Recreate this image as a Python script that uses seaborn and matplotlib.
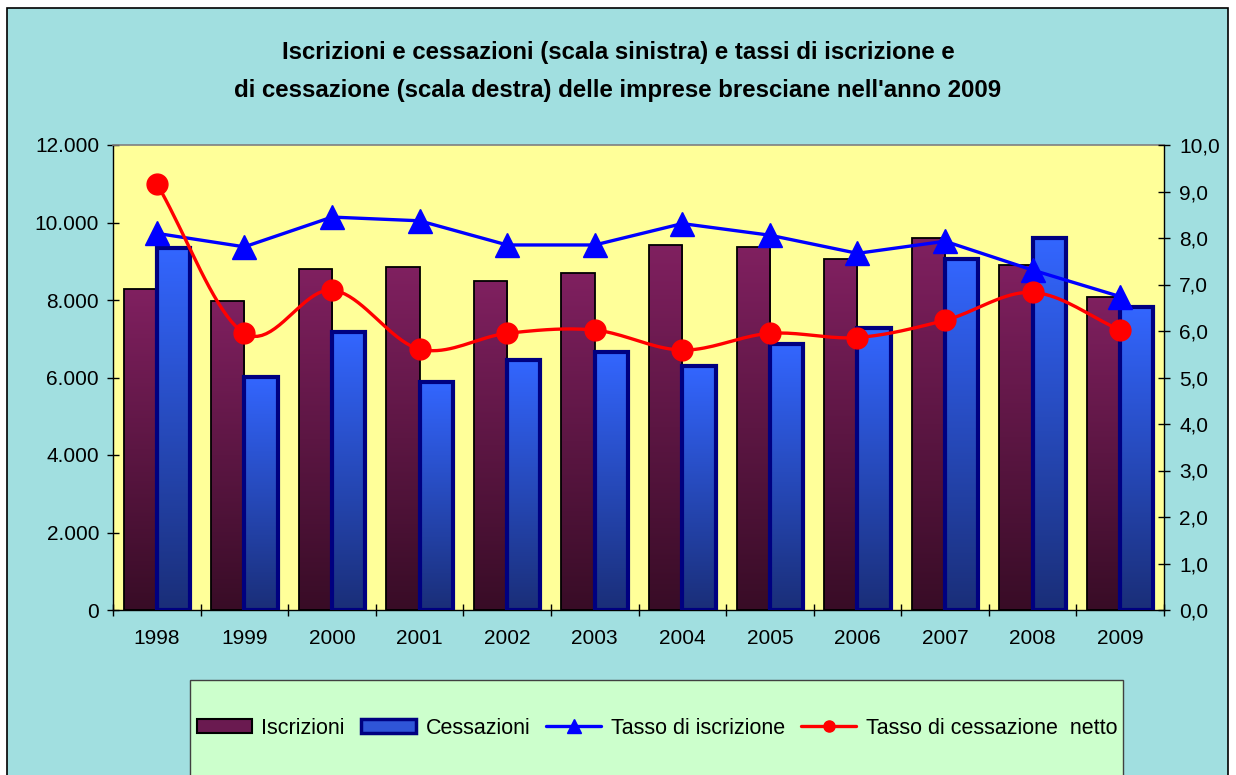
import numpy as np
import pandas as pd
import seaborn as sns
import matplotlib.pyplot as plt
from matplotlib.patches import Rectangle
from matplotlib.lines import Line2D
from matplotlib.ticker import FuncFormatter, FixedLocator

# dati
anni = ['1998', '1999', '2000', '2001', '2002', '2003', '2004', '2005', '2006', '2007', '2008', '2009']
iscrizioni = [8280, 7980, 8810, 8860, 8500, 8700, 9420, 9380, 9060, 9590, 8910, 8080]
cessazioni = [9330, 6020, 7170, 5880, 6450, 6650, 6290, 6860, 7270, 9070, 9590, 7830]
tasso_iscrizione = [8.10, 7.81, 8.45, 8.37, 7.85, 7.85, 8.31, 8.06, 7.67, 7.93, 7.31, 6.74]
tasso_cessazione = [9.17, 5.95, 6.88, 5.61, 5.95, 6.02, 5.59, 5.95, 5.86, 6.23, 6.83, 6.02]

sns.set_theme(style='white')
plt.rcParams['font.family'] = ['Liberation Sans', 'DejaVu Sans']
plt.rcParams['text.color'] = 'black'

df = pd.DataFrame({
    'anno': anni * 2,
    'valore': iscrizioni + cessazioni,
    'serie': ['Iscrizioni'] * len(anni) + ['Cessazioni'] * len(anni),
})

CIANO = '#A1DFE0'
fig = plt.figure(figsize=(12.36, 7.75), dpi=100, facecolor='white')
# sfondo del grafico con bordo nero
fig.patches.append(Rectangle((7 / 1236, -0.01), 1221 / 1236, 1 - 8 / 775 + 0.01,
                             transform=fig.transFigure, facecolor=CIANO,
                             edgecolor='black', linewidth=1.2, zorder=-10))

ax = fig.add_axes([113 / 1236, 1 - 610 / 775, 1051 / 1236, 465 / 775])
ax.set_facecolor('#FFFF99')

sns.barplot(data=df, x='anno', y='valore', hue='serie', ax=ax, width=0.76,
            palette={'Iscrizioni': '#7A1F5C', 'Cessazioni': '#3355EE'},
            legend=False, saturation=1)

# riempimento sfumato delle barre
colori = {
    'Iscrizioni': (np.array([0x80, 0x20, 0x60]) / 255, np.array([0x38, 0x0C, 0x26]) / 255, 'black', 1.3),
    'Cessazioni': (np.array([0x33, 0x66, 0xFF]) / 255, np.array([0x1A, 0x2E, 0x78]) / 255, '#000080', 3.0),
}
n = len(anni)
for i, p in enumerate(ax.patches[:2 * n]):
    serie = 'Iscrizioni' if i < n else 'Cessazioni'
    top, bot, edge, lw = colori[serie]
    g = np.linspace(0, 1, 256)[:, None]
    img = top[None, :] * (1 - g) + bot[None, :] * g
    img = img[:, None, :]
    x0, w, h = p.get_x(), p.get_width(), p.get_height()
    im = ax.imshow(img, extent=[x0, x0 + w, 0, h], aspect='auto', zorder=2,
                   interpolation='bilinear', origin='upper')
    im.set_clip_path(p)
    p.set_facecolor('none')
    p.set_edgecolor(edge)
    p.set_linewidth(lw)
    p.set_zorder(3)

ax.set_xlim(-0.5, n - 0.5)
ax.set_ylim(0, 12000)
ax.set_yticks(range(0, 12001, 2000))
ax.yaxis.set_major_formatter(FuncFormatter(lambda v, _: f'{v:,.0f}'.replace(',', '.')))
ax.set_xlabel('')
ax.set_ylabel('')
ax.grid(False)
ax.xaxis.set_minor_locator(FixedLocator(np.arange(-0.5, n, 1.0)))
ax.tick_params(axis='x', which='major', length=0, pad=14, labelsize=15, labelcolor='black')
ax.tick_params(axis='x', which='minor', direction='inout', length=8, width=1, color='black', bottom=True)
ax.tick_params(axis='y', direction='inout', length=8, width=1, color='black', left=True,
               labelsize=15, pad=6, labelcolor='black')
for s in ['left', 'bottom', 'right']:
    ax.spines[s].set_color('black')
    ax.spines[s].set_linewidth(1.0)
ax.spines['top'].set_color('#808080')
ax.spines['top'].set_linewidth(1.2)

# asse destro per i tassi
ax2 = ax.twinx()
ax2.set_ylim(0, 10)
ax2.set_yticks(np.arange(0, 10.01, 1))
ax2.yaxis.set_major_formatter(FuncFormatter(lambda v, _: f'{v:.1f}'.replace('.', ',')))
ax2.tick_params(axis='y', direction='inout', length=8, width=1, color='black', right=True,
                labelsize=15, pad=7, labelcolor='black')
ax2.grid(False)
for s in ax2.spines.values():
    s.set_visible(False)

xpos = np.arange(n)
ax2.plot(xpos, tasso_iscrizione, color='#0000FF', lw=2.4, marker='^', markersize=17,
         markeredgecolor='#0000FF', zorder=5)


def catmull_rom(x, y, k=20):
    # linea smussata tipo Excel
    px = np.concatenate([[2 * x[0] - x[1]], x, [2 * x[-1] - x[-2]]])
    py = np.concatenate([[2 * y[0] - y[1]], y, [2 * y[-1] - y[-2]]])
    xs, ys = [], []
    t = np.linspace(0, 1, k, endpoint=False)
    for i in range(1, len(px) - 2):
        for P, out in ((px, xs), (py, ys)):
            p0, p1, p2, p3 = P[i - 1], P[i], P[i + 1], P[i + 2]
            out.extend(0.5 * (2 * p1 + (-p0 + p2) * t + (2 * p0 - 5 * p1 + 4 * p2 - p3) * t ** 2
                              + (-p0 + 3 * p1 - 3 * p2 + p3) * t ** 3))
    xs.append(x[-1])
    ys.append(y[-1])
    return xs, ys


sx, sy = catmull_rom(xpos.astype(float), np.array(tasso_cessazione))
ax2.plot(sx, sy, color='#FF0000', lw=2.4, zorder=6)
ax2.plot(xpos, tasso_cessazione, linestyle='none', marker='o', markersize=15,
         color='#FF0000', zorder=6)

# titolo
fig.text(0.5, 1 - 52 / 775, 'Iscrizioni e cessazioni (scala sinistra) e tassi di iscrizione e',
         ha='center', va='center', fontsize=17.3, fontweight='bold', color='black')
fig.text(0.5, 1 - 90 / 775, "di cessazione (scala destra) delle imprese bresciane nell'anno 2009",
         ha='center', va='center', fontsize=17.3, fontweight='bold', color='black')

# legenda
fig.patches.append(Rectangle((190 / 1236, -0.05), 933 / 1236, 1 - 680 / 775 + 0.05,
                             transform=fig.transFigure, facecolor='#CCFFCC',
                             edgecolor='#404040', linewidth=1.0, zorder=-5))
handles = [
    Rectangle((0, 0), 1, 1, facecolor='#6A1A50', edgecolor='black', linewidth=1.5),
    Rectangle((0, 0), 1, 1, facecolor='#2F55D8', edgecolor='#000080', linewidth=2.5),
    Line2D([], [], color='#0000FF', lw=2.4, marker='^', markersize=10),
    Line2D([], [], color='#FF0000', lw=2.4, marker='o', markersize=8),
]
labels = ['Iscrizioni', 'Cessazioni', 'Tasso di iscrizione', 'Tasso di cessazione  netto']
fig.legend(handles, labels, loc='center', bbox_to_anchor=(657 / 1236, 1 - 728 / 775),
           ncol=4, frameon=False, fontsize=15.5, handlelength=2.55, handleheight=0.6,
           handletextpad=0.45, columnspacing=0.75, labelcolor='black')

fig.savefig('out.png', dpi=100, facecolor=fig.get_facecolor())
